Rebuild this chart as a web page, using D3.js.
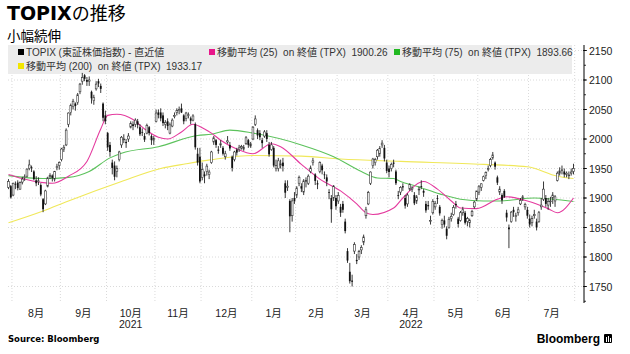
<!DOCTYPE html>
<html><head><meta charset="utf-8">
<script src="https://cdn.jsdelivr.net/npm/d3@7"></script>
<style>
html,body{margin:0;padding:0;background:#fff;}
svg{display:block;}
</style></head>
<body>
<svg id="c" width="630" height="354"></svg>
<script>
// ---- DATA ----
const title = "の推移";
const titleLatin = "TOPIX";
const subtitle = "小幅続伸";
const monthLabels = ["", "8月","9月","10月","11月","12月","1月","2月","3月","4月","5月","6月","7月"];
const monthDays = [2,21,20,21,20,22,19,18,22,20,19,22,20]; // trading days per month (Jul-2021 .. Jul-2022)
const yearLabels = [{month:3, text:"2021"}, {month:9, text:"2022"}];
const yTicks = [1750,1800,1850,1900,1950,2000,2050,2100,2150];

const opens = [1918,1920,
1905,1924,1926,1915,1927,1935,1937,1950,1952,1945,1930,1928,1922,1898,1890,1920,1936,1938,1932,1952,1955,
1965,1983,1990,2025,2045,2055,2060,2062,2080,2098,2108,2100,2098,2080,2065,2085,2098,2090,2060,2040,
2010,1990,1960,1955,1945,1965,1990,2000,1995,2000,2020,2025,2025,2030,2020,2012,2005,2010,2020,2005,1998,
2030,2045,2045,2040,2025,2030,2010,2022,2038,2045,2048,2052,2040,2035,2040,2035,2032,2025,1975,1970,
1935,1940,1945,1940,1960,1995,1998,1982,1990,1985,1970,1995,1990,1970,1965,1982,1982,1985,1983,1992,1998,1988,
2000,2025,2015,2010,1998,2005,2010,1990,1982,1985,1950,1950,1955,1960,1925,1918,1895,1870,1900,
1905,1925,1920,1910,1930,1925,1945,1960,1940,1925,1945,1955,1940,1935,1910,1900,1900,1900,
1895,1885,1890,1860,1810,1775,1760,1810,1795,1800,1812,1825,1870,1890,1925,1955,1960,1970,1975,1990,1985,1960,
1950,1950,1960,1945,1905,1910,1920,1900,1890,1915,1915,1905,1895,1915,1920,1912,1890,1888,1862,1875,
1885,1900,1885,1855,1862,1848,1850,1865,1872,1890,1865,1862,1875,1875,1860,1858,1870,1885,1898,
1910,1918,1930,1938,1950,1955,1968,1960,1935,1910,1905,1912,1875,1850,1860,1880,1870,1875,1890,1900,1885,1880,
1865,1858,1870,1860,1860,1885,1898,1900,1888,1895,1900,1895,1930,1942,1948,1945,1940,1938,1942,1945];
const highs = [1932,1922,
1926,1928,1930,1928,1936,1940,1950,1965,1955,1947,1937,1935,1925,1900,1914,1936,1942,1940,1946,1958,1962,
1985,1990,2018,2045,2060,2068,2062,2078,2095,2112,2110,2105,2106,2082,2075,2098,2102,2094,2062,2048,
2012,1995,1965,1962,1955,1980,2005,2008,2000,2010,2030,2030,2035,2034,2025,2018,2010,2026,2022,2008,2005,
2050,2050,2052,2045,2032,2035,2028,2035,2045,2052,2055,2060,2042,2046,2045,2038,2042,2028,1985,1985,
1960,1945,1958,1948,1980,2005,2000,1988,1998,1988,1980,2005,1995,1972,1980,1985,1990,1990,1990,2005,2000,1995,
2022,2040,2018,2015,2002,2015,2015,1995,1995,1988,1965,1968,1965,1968,1930,1930,1898,1900,1910,
1920,1938,1925,1932,1935,1940,1955,1968,1942,1930,1962,1958,1945,1940,1915,1905,1922,1905,
1910,1890,1895,1865,1815,1790,1770,1825,1805,1812,1820,1838,1885,1912,1945,1968,1968,1983,1988,1998,1990,1965,
1955,1960,1965,1948,1912,1920,1925,1905,1908,1925,1920,1910,1905,1920,1930,1915,1895,1895,1870,1898,
1895,1905,1888,1865,1870,1852,1868,1875,1888,1895,1868,1878,1885,1878,1868,1865,1880,1895,1912,
1922,1925,1938,1945,1955,1968,1978,1962,1938,1920,1908,1915,1880,1855,1878,1885,1875,1885,1900,1905,1892,1885,
1872,1870,1880,1865,1878,1900,1928,1905,1900,1902,1910,1905,1945,1952,1955,1950,1945,1945,1950,1958];
const lows = [1915,1899,
1903,1915,1913,1914,1923,1929,1935,1947,1944,1930,1920,1922,1903,1876,1888,1918,1932,1928,1928,1947,1948,
1962,1978,1988,2020,2040,2050,2048,2058,2076,2092,2098,2090,2090,2060,2058,2082,2088,2078,2030,2025,
1980,1970,1940,1930,1935,1962,1985,1993,1985,1995,2018,2015,2020,2018,2005,2005,1995,2008,2006,1990,1990,
2028,2035,2030,2022,2018,2015,2008,2020,2035,2040,2042,2044,2025,2030,2035,2025,2030,1982,1955,1925,
1930,1925,1938,1932,1958,1990,1985,1975,1985,1972,1965,1992,1980,1945,1962,1972,1978,1982,1980,1990,1985,1985,
1998,2022,2000,1998,1985,2002,1995,1970,1980,1952,1945,1945,1950,1945,1900,1912,1842,1860,1890,
1900,1920,1910,1905,1918,1922,1942,1955,1922,1915,1942,1940,1932,1920,1898,1858,1895,1880,
1890,1868,1875,1840,1790,1755,1750,1805,1788,1795,1805,1820,1865,1888,1922,1950,1955,1965,1970,1985,1962,1942,
1935,1945,1952,1922,1898,1905,1912,1882,1885,1912,1910,1888,1890,1905,1915,1902,1875,1880,1855,1872,
1880,1890,1870,1848,1850,1830,1848,1860,1870,1882,1850,1860,1870,1855,1852,1850,1868,1882,1895,
1905,1912,1928,1932,1945,1952,1965,1948,1922,1905,1890,1900,1860,1815,1858,1868,1860,1870,1888,1895,1880,1865,
1850,1852,1865,1845,1858,1880,1895,1885,1880,1885,1890,1885,1928,1938,1940,1935,1935,1932,1938,1940];
const closes = [1928,1901,
1925,1923,1917,1926,1932,1936,1949,1956,1951,1932,1925,1929,1906,1881,1912,1934,1938,1934,1945,1953,1960,
1983,1986,2015,2044,2057,2064,2056,2075,2093,2104,2102,2097,2100,2069,2070,2093,2094,2085,2036,2030,
1986,1978,1951,1936,1950,1978,2003,2000,1993,2005,2026,2022,2032,2024,2008,2011,1999,2023,2010,1998,2001,
2044,2041,2035,2027,2028,2022,2024,2032,2040,2048,2050,2045,2030,2044,2041,2031,2039,1986,1960,1928,
1948,1937,1954,1944,1978,2002,1990,1980,1992,1975,1975,1997,1984,1951,1978,1977,1985,1987,1986,2002,1990,1992,
2020,2034,2006,2003,1993,2012,2000,1974,1990,1955,1955,1963,1958,1954,1909,1920,1869,1895,1895,
1917,1935,1916,1929,1928,1937,1951,1963,1929,1923,1960,1947,1939,1928,1909,1881,1920,1886,
1904,1875,1880,1844,1794,1759,1758,1821,1793,1809,1816,1834,1880,1909,1944,1966,1965,1981,1984,1993,1967,1946,
1944,1957,1958,1925,1904,1918,1918,1887,1905,1923,1917,1891,1902,1915,1919,1909,1879,1886,1862,1894,
1891,1899,1874,1862,1855,1836,1864,1869,1884,1888,1856,1875,1880,1858,1865,1862,1877,1893,1912,
1919,1924,1936,1943,1950,1965,1973,1953,1926,1915,1896,1902,1867,1847,1876,1876,1870,1880,1896,1902,1889,1870,
1855,1865,1872,1850,1875,1888,1915,1890,1894,1895,1905,1902,1942,1946,1947,1940,1942,1939,1944,1950];

// moving averages: [trading-day index, value]
const ma25 = [[0,1940],[6,1933],[15,1926],[19,1925],[26,1937],[34,1962],[40,2017],[43,2040],[47,2042],[54,2033],[59,2017],[65,2003],[69,2000],[75,2012],[80,2025],[85,2017],[88,2010],[92,1998],[99,1983],[106,1975],[114,1992],[118,1987],[127,1957],[135,1932],[144,1912],[151,1890],[155,1875],[158,1872],[167,1883],[171,1900],[180,1928],[186,1915],[192,1895],[196,1883],[203,1882],[212,1898],[216,1902],[225,1895],[234,1882],[238,1875],[245,1900]];
const ma75 = [[0,1938],[15,1933],[26,1935],[35,1945],[44,1968],[49,1976],[65,1987],[82,2006],[88,2008],[96,2015],[106,2010],[127,1990],[141,1970],[153,1945],[160,1934],[167,1933],[170,1928],[177,1920],[187,1907],[196,1898],[206,1895],[213,1895],[228,1900],[245,1894]];
const ma200 = [[0,1858],[15,1878],[26,1895],[49,1928],[66,1950],[77,1958],[88,1965],[106,1972],[127,1971],[144,1966],[170,1962],[206,1957],[225,1953],[238,1937],[245,1933]];

const legendItems = [
  {label:"TOPIX (東証株価指数) - 直近値", color:"#000", row:0, col:0},
  {label:"移動平均 (25)  on 終値 (TPX)  1900.26", color:"#e8178a", row:0, col:1},
  {label:"移動平均 (75)  on 終値 (TPX)  1893.66", color:"#22b822", row:0, col:2},
  {label:"移動平均 (200)  on 終値 (TPX)  1933.17", color:"#f2e600", row:1, col:0}
];
const maColors = {ma25:"#e43a9e", ma75:"#5cc25c", ma200:"#f0e85a"};

// ---- DRAW ----
const svg = d3.select("#c");
const FONT = "'Liberation Sans','Noto Sans CJK JP',sans-serif";
const n = closes.length;
const x = d3.scaleLinear().domain([0, n-1]).range([8.5, 573.5]);
const y = d3.scaleLinear().domain([1750, 2150]).range([286.5, 50.5]);
const plotTop = 45, plotBot = 303, plotLeft = 8, axisX = 584;

// Title
const t = svg.append("text").attr("x", 7).attr("y", 19.5);
t.append("tspan").text(titleLatin).attr("font-family","'DejaVu Sans',sans-serif").attr("font-weight","bold").attr("font-size",19).attr("fill","#000");
t.append("tspan").text(title).attr("font-family","'Noto Sans CJK JP',sans-serif").attr("font-size",18).attr("fill","#000");
svg.append("text").attr("x",7).attr("y",40.5).text(subtitle)
  .attr("font-family","'Noto Sans CJK JP',sans-serif").attr("font-size",13.5).attr("fill","#000");

// month boundaries
const starts = []; let acc = 0;
monthDays.forEach(d => { starts.push(acc); acc += d; });
starts.push(acc);

// horizontal grid
svg.append("g").selectAll("line").data(yTicks).join("line")
  .attr("x1", plotLeft).attr("x2", axisX).attr("y1", d=>y(d)).attr("y2", d=>y(d))
  .attr("stroke","#d0d0d0").attr("stroke-width",0.8).attr("stroke-dasharray","1,2");
// vertical grid at month starts
svg.append("g").selectAll("line").data(starts.slice(1)).join("line")
  .attr("x1", d=>x(d-0.5)).attr("x2", d=>x(d-0.5)).attr("y1", plotTop).attr("y2", plotBot)
  .attr("stroke","#d0d0d0").attr("stroke-width",0.8).attr("stroke-dasharray","1,2");

// legend box
svg.append("rect").attr("x",8).attr("y",45).attr("width",564).attr("height",29).attr("fill","#ececec");
const colX = [18, 209, 394], rowY = [56, 70];
legendItems.forEach(it => {
  const gx = colX[it.col], gy = rowY[it.row];
  svg.append("rect").attr("x",gx).attr("y",gy-7).attr("width",6).attr("height",6).attr("fill",it.color);
  svg.append("text").attr("x",gx+8).attr("y",gy).text(it.label)
    .attr("font-family",FONT).attr("font-size",10).attr("fill","#333").style("white-space","pre");
});

// MA lines
const line = d3.line().x(d=>x(d[0])).y(d=>y(d[1])).curve(d3.curveMonotoneX);
[["ma200",ma200],["ma75",ma75],["ma25",ma25]].forEach(([k,arr]) => {
  svg.append("path").datum(arr).attr("d", line).attr("fill","none")
    .attr("stroke", maColors[k]).attr("stroke-width",1.1);
});

// candles
const idx = d3.range(n);
const cg = svg.append("g");
cg.selectAll("line").data(idx).join("line")
  .attr("x1", i=>x(i)).attr("x2", i=>x(i)).attr("y1", i=>y(highs[i])).attr("y2", i=>y(lows[i]))
  .attr("stroke","#222").attr("stroke-width",0.9);
cg.selectAll("rect").data(idx).join("rect")
  .attr("x", i=>x(i)-0.9).attr("width",1.8)
  .attr("y", i=>y(Math.max(opens[i],closes[i])))
  .attr("height", i=>Math.max(0.8, Math.abs(y(opens[i])-y(closes[i]))))
  .attr("fill", i=> closes[i]>=opens[i] ? "#fff" : "#111")
  .attr("stroke", i=> closes[i]>=opens[i] ? "#333" : "none")
  .attr("stroke-width",0.6);

// right axis
const ax = svg.append("g");
ax.append("line").attr("x1",axisX).attr("x2",axisX).attr("y1",plotTop).attr("y2",plotBot).attr("stroke","#000").attr("stroke-width",1);
const minor = d3.range(1725, 2176, 25).filter(v => y(v) >= plotTop && y(v) <= plotBot);
ax.selectAll("line.mn").data(minor).join("line").attr("class","mn")
  .attr("x1",axisX).attr("x2",axisX+2).attr("y1",d=>y(d)).attr("y2",d=>y(d)).attr("stroke","#000").attr("stroke-width",0.8);
ax.selectAll("line.mj").data(yTicks).join("line").attr("class","mj")
  .attr("x1",axisX-1).attr("x2",axisX+3).attr("y1",d=>y(d)).attr("y2",d=>y(d)).attr("stroke","#000").attr("stroke-width",0.8);
ax.selectAll("text").data(yTicks).join("text")
  .attr("x",axisX+5).attr("y",d=>y(d)+4).text(d=>d)
  .attr("font-family",FONT).attr("font-size",10.5).attr("fill","#222");

// x labels
const months = monthLabels.map((m,k)=>({m, k, c:(starts[k]+starts[k+1]-1)/2})).filter(d=>d.m);
svg.append("g").selectAll("text").data(months).join("text")
  .attr("x", d=>x(d.c)).attr("y", 317).attr("text-anchor","middle").text(d=>d.m)
  .attr("font-family",FONT).attr("font-size",10.5).attr("fill","#222");
svg.append("g").selectAll("text").data(yearLabels).join("text")
  .attr("x", d=>x((starts[d.month]+starts[d.month+1]-1)/2)).attr("y", 328).attr("text-anchor","middle").text(d=>d.text)
  .attr("font-family",FONT).attr("font-size",10.5).attr("fill","#222");

// footer
svg.append("text").attr("x",8).attr("y",342).text("Source: Bloomberg")
  .attr("font-family","'DejaVu Sans',sans-serif").attr("font-weight","bold").attr("font-size",8.5).attr("fill","#000");
svg.append("text").attr("x",600).attr("y",343).attr("text-anchor","end").text("Bloomberg")
  .attr("font-family","'Liberation Sans',sans-serif").attr("font-weight","bold").attr("font-size",12).attr("fill","#000");
const lg = svg.append("g").attr("transform","translate(604,334)");
lg.append("rect").attr("width",8).attr("height",9).attr("rx",1).attr("fill","#000");
lg.append("rect").attr("x",2).attr("y",3).attr("width",1).attr("height",5).attr("fill","#fff");
lg.append("rect").attr("x",4).attr("y",2).attr("width",1).attr("height",6).attr("fill","#fff");
lg.append("rect").attr("x",6).attr("y",4).attr("width",1).attr("height",4).attr("fill","#fff");
</script>
</body></html>
